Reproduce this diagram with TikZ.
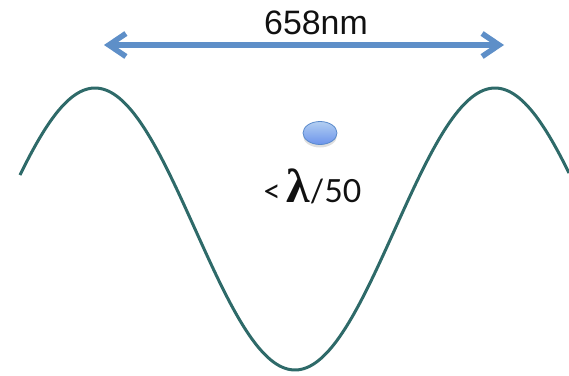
\documentclass[tikz,border=0pt]{standalone}
\usepackage{fontspec}
\setmainfont{Lato}
\newfontfamily\lblfont{Liberation Sans}
\newfontfamily\greekfont{Liberation Serif}
\usetikzlibrary{arrows.meta,positioning,shadows,shapes.geometric}
\definecolor{cwave}{HTML}{2E6A69}
\definecolor{carrow}{HTML}{5E8FC8}
\definecolor{cdot}{HTML}{7FAEE8}
\definecolor{cdotrim}{HTML}{5A8ACB}
\definecolor{cink}{HTML}{111111}

\begin{document}
\begin{tikzpicture}[x=1bp, y=1bp,
    wave/.style={line width=3bp, draw=cwave},
    span/.style={{Straight Barb[length=17bp, width=23bp]}-{Straight Barb[length=17bp, width=23bp]},
                 line width=5.5bp, draw=carrow, line cap=round, line join=round},
    lbl/.style={font=\lblfont\fontsize{34}{34}\selectfont, text=cink, inner sep=0pt},
    note/.style={font=\fontsize{32}{32}\selectfont, text=cink, inner sep=0pt},
    blob/.style={ellipse, draw=cdotrim, line width=0.8bp, inner sep=0pt,
                 minimum width=34bp, minimum height=23bp,
                 top color=cdot!60!white, bottom color=cdot!85!blue,
                 drop shadow={shadow xshift=0bp, shadow yshift=-3bp, opacity=0.25}},
  ]
  % fixed canvas, same size as the reference
  \useasboundingbox (0,0) rectangle (569,375);
  % one wavelength of the wave, peaks at x=95 and x=495
  \draw[wave] plot[domain=20:569, samples=200, smooth]
    (\x, {146 + 141*cos(0.9*(\x-95))});
  % the span of one wavelength
  \coordinate (lend) at (104,330);
  \coordinate (rend) at (504,330);
  \draw[span] (lend) -- (rend);
  \node[lbl, anchor=base] (len) at (316,341) {658nm};
  % the particle and its size
  \node[blob] (dot) at (320,242) {};
  \node[note, anchor=base] (size) at (312,173)
    {<\,{\greekfont\bfseries\fontsize{48}{48}\selectfont λ}/50};
\end{tikzpicture}
\end{document}
